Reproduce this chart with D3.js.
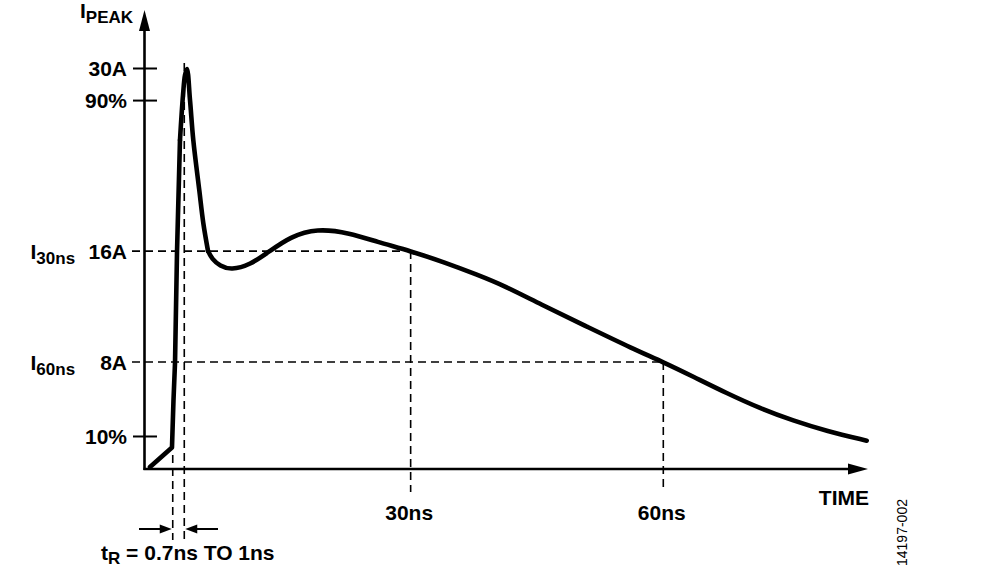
<!DOCTYPE html>
<html>
<head>
<meta charset="utf-8">
<script src="https://cdn.jsdelivr.net/npm/d3@7"></script>
<style>
  html, body { margin: 0; padding: 0; background: #fff; }
  svg { display: block; font-family: "Liberation Sans", Arial, sans-serif; }
</style>
</head>
<body>
<svg id="chart" width="991" height="581"></svg>
<script>
// ---- data (time in ns, current in A) ----
const curveTime = [-0.95, 1.66, 1.84, 2.02, 2.26, 2.61, 2.97, 3.21, 3.44, 3.80, 4.19, 4.90, 5.38, 5.94, 6.41, 7.36, 8.67, 10.92, 13.30, 15.67, 18.84, 22.80, 25.97, 30.0, 34.08, 37.84, 41.20, 45.36, 50.90, 56.40, 60.0, 63.56, 67.53, 71.48, 75.44, 79.40, 84.15];
const curveAmps = [0.15, 1.61, 5.16, 7.93, 16.31, 24.61, 27.98, 29.48, 29.92, 27.6, 24.61, 20.87, 18.40, 16.31, 15.71, 15.19, 14.89, 15.26, 16.31, 17.36, 18.01, 17.66, 17.00, 16.3, 15.45, 14.55, 13.69, 12.34, 10.66, 8.99, 8.0, 6.91, 5.67, 4.54, 3.61, 2.84, 2.12];
// curve pieces: [first index, last index, interpolation]
const curvePieces = [[0, 5, "linear"], [5, 13, "catmull"], [13, 36, "basis"]];

const yTickLabels = ["30A", "90%", "16A", "8A", "10%"];
const yTickValues = [30, 27.6, 16.3, 8, 2.47];
const yTickDashed = [false, false, true, true, false];

const xMarkTimes = [30, 60];
const xMarkLabels = ["30ns", "60ns"];
const xMarkLevels = [16.3, 8];          // current reached at each mark
const sideLabelSubs = ["30ns", "60ns"];  // I30ns, I60ns

const riseTimes = [1.75, 3.12];          // tR start / end markers
const riseLabel = ["t", "R", " = 0.7ns TO 1ns"];
const figureId = "14197-002";

// ---- layout ----
const svg = d3.select("#chart");
const axisX = 144.5, axisY = 469;
const x = d3.scaleLinear().domain([0, 60]).range([158, 663.3]);
const y = d3.scaleLinear().domain([0, 30]).range([axisY, 68]);
const FONT = 21, SUB = 17;

// ---- dashed guide lines ----
const dash = "8,5";
const guides = svg.append("g").attr("stroke", "#000").attr("stroke-width", 1.6).attr("stroke-dasharray", dash).attr("fill", "none");
xMarkTimes.forEach((t, i) => {
  guides.append("line").attr("x1", 132).attr("x2", x(t)).attr("y1", y(xMarkLevels[i])).attr("y2", y(xMarkLevels[i]));
  guides.append("line").attr("x1", x(t)).attr("x2", x(t)).attr("y1", y(xMarkLevels[i])).attr("y2", 492);
});
guides.append("line").attr("x1", x(riseTimes[0])).attr("x2", x(riseTimes[0])).attr("y1", 455).attr("y2", 540);
guides.append("line").attr("x1", x(riseTimes[1])).attr("x2", x(riseTimes[1])).attr("y1", 63).attr("y2", 540);

// ---- axes lines with arrows ----
svg.append("line").attr("x1", axisX).attr("x2", axisX).attr("y1", axisY + 1).attr("y2", 26)
  .attr("stroke", "#000").attr("stroke-width", 2.6);
svg.append("path").attr("d", `M${axisX},10 L${axisX - 5.5},31 L${axisX + 5.5},31 Z`).attr("fill", "#000");
svg.append("line").attr("x1", axisX - 1).attr("x2", 852).attr("y1", axisY).attr("y2", axisY)
  .attr("stroke", "#000").attr("stroke-width", 2.6);
svg.append("path").attr("d", `M868,${axisY} L848,${axisY - 5.5} L848,${axisY + 5.5} Z`).attr("fill", "#000");

// ---- y axis ticks & labels (via d3 axis) ----
const yAxis = d3.axisLeft(y).tickValues(yTickValues).tickSize(24).tickPadding(6)
  .tickFormat((d, i) => yTickLabels[i]);
const gy = svg.append("g").attr("transform", `translate(${axisX + 12.5},0)`).call(yAxis);
gy.select(".domain").remove();
gy.selectAll(".tick line").attr("stroke", "#000").attr("stroke-width", 2)
  .attr("display", (d, i) => yTickDashed[i] ? "none" : null);
gy.selectAll(".tick text").attr("fill", "#000").attr("font-size", FONT).attr("font-weight", "bold")
  .attr("font-family", "'Liberation Sans', Arial, sans-serif").attr("dy", "0.36em");

// ---- x axis labels (via d3 axis) ----
const xAxis = d3.axisBottom(x).tickValues(xMarkTimes).tickSize(0).tickPadding(36)
  .tickFormat((d, i) => xMarkLabels[i]);
const gx = svg.append("g").attr("transform", `translate(-2,${axisY})`).call(xAxis);
gx.select(".domain").remove();
gx.selectAll(".tick text").attr("fill", "#000").attr("font-size", FONT).attr("font-weight", "bold")
  .attr("font-family", "'Liberation Sans', Arial, sans-serif");

// ---- curve ----
const pts = curveTime.map((t, i) => [t, curveAmps[i]]);
const curves = { linear: d3.curveLinear, catmull: d3.curveCatmullRom.alpha(0.5), basis: d3.curveBasis };
curvePieces.forEach(([a, b, kind]) => {
  const line = d3.line().x(d => x(d[0])).y(d => y(d[1])).curve(curves[kind]);
  svg.append("path").attr("d", line(pts.slice(a, b + 1))).attr("fill", "none").attr("stroke", "#000")
    .attr("stroke-width", 4.6).attr("stroke-linejoin", "round").attr("stroke-linecap", "round");
});

// ---- text labels ----
const txt = svg.append("g").attr("fill", "#000").attr("font-weight", "bold");
function subLabel(xp, yp, main, sub, anchor) {
  const t = txt.append("text").attr("x", xp).attr("y", yp).attr("font-size", FONT).attr("text-anchor", anchor || "start");
  t.append("tspan").text(main);
  t.append("tspan").attr("font-size", SUB).attr("dy", 5).text(sub);
  return t;
}
subLabel(80, 17.5, "I", "PEAK");
xMarkLevels.forEach((v, i) => subLabel(30.5, y(v) + 7.5, "I", sideLabelSubs[i]));

txt.append("text").attr("x", 869).attr("y", 505).attr("font-size", FONT).attr("text-anchor", "end").text("TIME");

const tr = txt.append("text").attr("x", 101).attr("y", 560).attr("font-size", FONT);
tr.append("tspan").text(riseLabel[0]);
tr.append("tspan").attr("font-size", SUB).attr("dy", 4).text(riseLabel[1]);
tr.append("tspan").attr("dy", -4).text(riseLabel[2]);

// tR arrows
const ay = 529;
const xa = x(riseTimes[0]), xb = x(riseTimes[1]);
svg.append("line").attr("x1", 139).attr("x2", xa - 10).attr("y1", ay).attr("y2", ay).attr("stroke", "#000").attr("stroke-width", 2);
svg.append("path").attr("d", `M${xa - 1},${ay} L${xa - 13},${ay - 4.5} L${xa - 13},${ay + 4.5} Z`).attr("fill", "#000");
svg.append("line").attr("x1", 218).attr("x2", xb + 10).attr("y1", ay).attr("y2", ay).attr("stroke", "#000").attr("stroke-width", 2);
svg.append("path").attr("d", `M${xb + 1},${ay} L${xb + 13},${ay - 4.5} L${xb + 13},${ay + 4.5} Z`).attr("fill", "#000");

// figure id
svg.append("text").attr("transform", "translate(907,566) rotate(-90)").attr("font-size", 14)
  .attr("fill", "#000").text(figureId);
</script>
</body>
</html>
